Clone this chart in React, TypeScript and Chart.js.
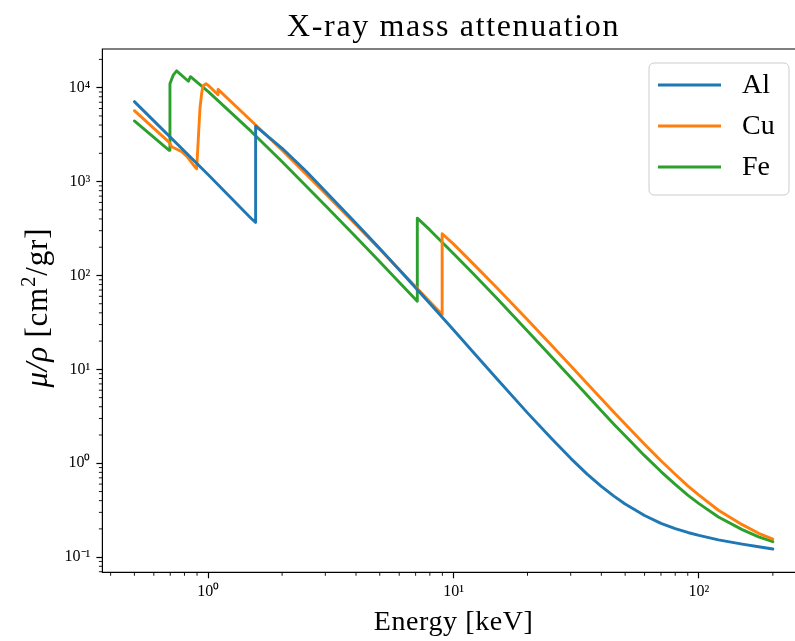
import React, { useEffect, useRef } from 'react';
import { Chart, registerables } from 'chart.js';

Chart.register(...registerables);

// ---------------- data ----------------
const seriesLabels = ['Al', 'Cu', 'Fe'];
const seriesColors = ['#1f77b4', '#ff7f0e', '#2ca02c'];

const energyAl = [0.5, 1.0, 1.5, 1.5596, 1.5596, 2, 2.5, 3, 4, 5, 6, 8, 10, 12, 15, 20, 25, 30, 35, 40, 45, 50, 60, 70, 80, 90, 100, 120, 150, 175, 200];
const muAl = [7100, 1185, 402, 368, 3900, 2263, 1295, 788, 360.5, 193.4, 115.3, 50.33, 26.23, 15.3, 7.955, 3.441, 1.843, 1.128, 0.767, 0.5685, 0.447, 0.3681, 0.2778, 0.229, 0.2018, 0.1832, 0.1704, 0.1527, 0.1378, 0.129, 0.1223];

const energyCu = [0.5, 0.69, 0.71, 0.78, 0.82, 0.885, 0.897, 0.925, 0.94, 0.952, 0.98, 1.0, 1.0961, 1.0961, 1.5, 2, 3, 4, 5, 6, 8, 8.979, 8.979, 10, 12, 15, 20, 25, 30, 35, 40, 45, 50, 60, 70, 80, 90, 100, 120, 150, 175, 200];
const muCu = [5690, 2650, 2350, 2080, 1840, 1420, 1370, 6000, 8700, 10500, 11000, 10570, 8400, 9600, 4418, 2154, 748.8, 347.3, 190.1, 115.6, 52.59, 38.38, 278.4, 215.7, 133.8, 74.05, 33.79, 18.2, 10.92, 7.08, 4.862, 3.5, 2.613, 1.593, 1.063, 0.763, 0.575, 0.4584, 0.316, 0.222, 0.1795, 0.1559];

const energyFe = [0.5, 0.693, 0.698, 0.72, 0.743, 0.83, 0.846, 1.0, 1.5, 2, 3, 4, 5, 6, 7.112, 7.112, 8, 10, 12, 15, 20, 25, 30, 35, 40, 45, 50, 60, 70, 80, 90, 100, 120, 150, 175, 200];
const muFe = [4420, 2150, 11000, 13600, 15100, 11700, 13100, 9085, 3399, 1626, 557.6, 256.7, 139.8, 84.84, 53.19, 407.6, 305.6, 170.6, 104.7, 57.08, 25.68, 13.72, 8.176, 5.29, 3.629, 2.61, 1.958, 1.205, 0.816, 0.5952, 0.458, 0.3717, 0.268, 0.1964, 0.1645, 0.146];

const xTickValues = [1, 10, 100];
const xTickLabels = ['10⁰', '10¹', '10²'];
const yTickValues = [0.1, 1, 10, 100, 1000, 10000];
const yTickLabels = ['10⁻¹', '10⁰', '10¹', '10²', '10³', '10⁴'];

// visible axis window (the figure is cropped at its right side)
const xLimits = [0.3703, 246.2];
const yLimits = [0.069, 25820];

const titleText = 'X-ray mass attenuation';
const xTitleText = 'Energy [keV]';

// ---------------- styling ----------------
const SERIF = '"Liberation Serif", "Times New Roman", serif';
const CANVAS_W = 795;
const CANVAS_H = 641;

function pairs(xs: number[], ys: number[]) {
  return xs.map((x, i) => ({ x, y: ys[i] }));
}

const decorPlugin = {
  id: 'mplDecor',
  afterDraw(chart: any) {
    const { ctx, chartArea: a, scales } = chart;
    const xs = scales.x;
    const ys = scales.y;
    ctx.save();

    // keep the cropped right edge open (no spine there in the reference)
    ctx.fillStyle = '#fff';
    ctx.fillRect(a.right - 3, a.top + 2, 3, a.bottom - a.top - 4);

    // minor ticks
    ctx.strokeStyle = '#000';
    ctx.lineWidth = 0.9;
    ctx.beginPath();
    for (let k = -2; k <= 5; k++) {
      for (let m = 2; m <= 9; m++) {
        const v = m * Math.pow(10, k);
        if (v > xs.min && v < xs.max) {
          const p = xs.getPixelForValue(v);
          ctx.moveTo(p, a.bottom);
          ctx.lineTo(p, a.bottom + 3.5);
        }
        if (v > ys.min && v < ys.max) {
          const p = ys.getPixelForValue(v);
          ctx.moveTo(a.left, p);
          ctx.lineTo(a.left - 3.5, p);
        }
      }
    }
    ctx.stroke();

    // frame (left, top, bottom spines; right spine lies outside the crop)
    ctx.lineWidth = 1.2;
    ctx.beginPath();
    ctx.moveTo(a.right + 20, a.top);
    ctx.lineTo(a.left, a.top);
    ctx.lineTo(a.left, a.bottom);
    ctx.lineTo(a.right + 20, a.bottom);
    ctx.stroke();

    const cx = 453.6;
    const cy = (a.top + a.bottom) / 2;

    // title
    ctx.fillStyle = '#000';
    ctx.textAlign = 'center';
    ctx.textBaseline = 'alphabetic';
    ctx.font = `32px ${SERIF}`;
    (ctx as any).letterSpacing = '1.65px';
    ctx.fillText(titleText, cx, a.top - 13);

    // x title
    ctx.font = `28px ${SERIF}`;
    (ctx as any).letterSpacing = '0.6px';
    ctx.fillText(xTitleText, cx, a.bottom + 58);

    // y title: μ/ρ [cm²/gr]
    ctx.save();
    ctx.translate(a.left - 65, cy - 3);
    ctx.rotate(-Math.PI / 2);
    ctx.textAlign = 'left';
    (ctx as any).letterSpacing = '0.8px';
    const parts = [
      { t: 'μ/ρ', f: `italic 31px ${SERIF}`, dy: 0 },
      { t: ' [cm', f: `31px ${SERIF}`, dy: 0 },
      { t: '2', f: `21px ${SERIF}`, dy: -12 },
      { t: '/gr]', f: `31px ${SERIF}`, dy: 0 },
    ];
    let total = 0;
    for (const p of parts) {
      ctx.font = p.f;
      total += ctx.measureText(p.t).width;
    }
    let x0 = -total / 2;
    for (const p of parts) {
      ctx.font = p.f;
      ctx.fillText(p.t, x0, 10 + p.dy);
      x0 += ctx.measureText(p.t).width;
    }
    ctx.restore();
    (ctx as any).letterSpacing = '0px';

    // legend
    const bw = 140;
    const bh = 132;
    const bx = 649;
    const by = a.top + 14;
    ctx.beginPath();
    ctx.roundRect(bx, by, bw, bh, 5);
    ctx.fillStyle = 'rgba(255,255,255,0.8)';
    ctx.fill();
    ctx.strokeStyle = '#cccccc';
    ctx.lineWidth = 1;
    ctx.stroke();
    ctx.font = `28px ${SERIF}`;
    ctx.textAlign = 'left';
    ctx.textBaseline = 'middle';
    chart.data.datasets.forEach((ds: any, i: number) => {
      const ly = by + 22 + i * 41;
      ctx.strokeStyle = ds.borderColor;
      ctx.lineWidth = 2.9;
      ctx.beginPath();
      ctx.moveTo(bx + 9, ly);
      ctx.lineTo(bx + 72, ly);
      ctx.stroke();
      ctx.fillStyle = '#000';
      ctx.fillText(ds.label, bx + 93, ly + 1);
    });

    ctx.restore();
  },
};

export default function App() {
  const ref = useRef<HTMLCanvasElement | null>(null);

  useEffect(() => {
    if (!ref.current) return;
    const energies = [energyAl, energyCu, energyFe];
    const values = [muAl, muCu, muFe];
    const chart = new Chart(ref.current, {
      type: 'line',
      data: {
        datasets: seriesLabels.map((label, i) => ({
          label,
          data: pairs(energies[i], values[i]),
          borderColor: seriesColors[i],
          backgroundColor: seriesColors[i],
          borderWidth: 2.9,
          pointRadius: 0,
          tension: 0,
          borderJoinStyle: 'round',
          borderCapStyle: 'round',
          fill: false,
        })),
      },
      options: {
        responsive: false,
        animation: false,
        devicePixelRatio: 1,
        layout: { padding: { left: 0, top: 49, right: 0, bottom: 0 } },
        plugins: {
          legend: { display: false },
          title: { display: false },
          tooltip: { enabled: false },
        },
        scales: {
          x: {
            type: 'logarithmic',
            min: xLimits[0],
            max: xLimits[1],
            afterBuildTicks: (scale: any) => {
              scale.ticks = xTickValues.map((v) => ({ value: v }));
            },
            afterFit: (scale: any) => {
              scale.height = CANVAS_H - 572.3;
            },
            grid: { display: true, drawOnChartArea: false, drawTicks: true, tickLength: 6, tickColor: '#000', tickWidth: 1.2 },
            border: { display: false },
            ticks: {
              autoSkip: false,
              maxRotation: 0,
              padding: 4,
              color: '#000',
              font: { family: SERIF, size: 16 },
              callback: (v: any) => {
                const i = xTickValues.findIndex((t) => Math.abs(t - Number(v)) < 1e-9 * t);
                return i >= 0 ? xTickLabels[i] : '';
              },
            },
          },
          y: {
            type: 'logarithmic',
            min: yLimits[0],
            max: yLimits[1],
            afterBuildTicks: (scale: any) => {
              scale.ticks = yTickValues.map((v) => ({ value: v }));
            },
            afterFit: (scale: any) => {
              scale.width = 102.4;
            },
            grid: { display: true, drawOnChartArea: false, drawTicks: true, tickLength: 6, tickColor: '#000', tickWidth: 1.2 },
            border: { display: false },
            ticks: {
              autoSkip: false,
              padding: 6,
              color: '#000',
              font: { family: SERIF, size: 16 },
              callback: (v: any) => {
                const i = yTickValues.findIndex((t) => Math.abs(t - Number(v)) < 1e-9 * t);
                return i >= 0 ? yTickLabels[i] : '';
              },
            },
          },
        },
      },
      plugins: [decorPlugin],
    } as any);
    return () => chart.destroy();
  }, []);

  return (
    <div style={{ position: 'fixed', left: 0, top: 0, width: 795, height: 641, overflow: 'hidden', background: '#fff' }}>
      <canvas ref={ref} width={CANVAS_W} height={CANVAS_H} style={{ width: CANVAS_W, height: CANVAS_H, display: 'block' }} />
    </div>
  );
}
